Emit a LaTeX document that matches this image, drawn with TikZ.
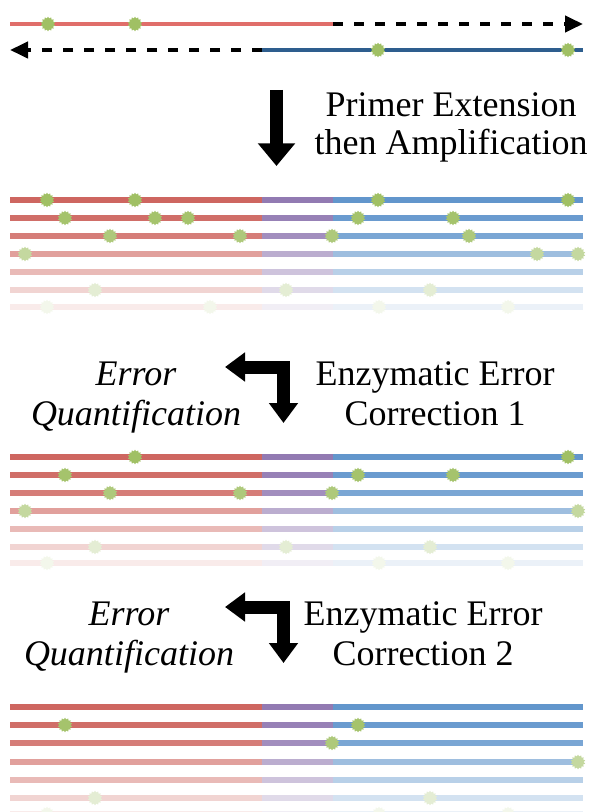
\documentclass[tikz,border=0pt]{standalone}
\usepackage{fontspec}
\setmainfont{Liberation Serif}
\usetikzlibrary{arrows.meta,shapes.geometric}
\definecolor{sred}{RGB}{206,102,96}
\definecolor{spurple}{RGB}{146,122,178}
\definecolor{sblue}{RGB}{98,150,204}
\definecolor{tred}{RGB}{224,110,106}
\definecolor{tblue}{RGB}{46,94,142}
\definecolor{mgreen}{RGB}{160,192,100}
\tikzset{
rd/.style ={draw=sred!#1, line width=4.5pt},
pu/.style ={draw=spurple!#1, line width=4.5pt},
bl/.style ={draw=sblue!#1, line width=4.5pt},
mut/.style ={star, star points=14, star point ratio=1.3,
  fill=mgreen!#1, draw=none, minimum size=11pt, inner sep=0pt
}
}
\begin{document}
\begin{tikzpicture}[x=0.75pt,y=-0.75pt,
lbl/.style ={font=\fontsize{27}{30}\selectfont, anchor=base},
itl/.style ={font=\fontsize{27}{30}\selectfont\itshape, anchor=base},
dsh/.style ={draw=black, line width=3pt, dash pattern=on 7.5pt off 8.25pt,
  -{Triangle[width=12pt,length=13.5pt]}
},
bigarrow/.style ={draw=black, line width=9.75pt,
  -{Triangle[width=27pt,length=17pt]}
},
elbow/.style ={draw=black, line width=9.75pt, line join=miter,
  {Triangle[width=21pt,length=15pt]}-{Triangle[width=21pt,length=15pt]}
}]
\useasboundingbox (0,0) rectangle (589,812);

\coordinate (t1) at (333,24);
\coordinate (t2) at (583,24);
\coordinate (t3) at (262,50);
\coordinate (t4) at (10,50);
\draw[tred, line width=3pt] (10,24) -- (t1);
\draw[dsh] (t1) -- (t2);
\draw[tblue, line width=3pt] (t3) -- (583,50);
\draw[dsh] (t3) -- (t4);
\node (m1) at (48,24) [mut=100] {};
\node (m2) at (135,24) [mut=100] {};
\node (m3) at (378,50) [mut=100] {};
\node (m4) at (568,50) [mut=100] {};

\coordinate (a0) at (276.5,90);
\coordinate (a1) at (276.5,166);
\draw[bigarrow] (a0) -- (a1);
\node (pe1) at (451,117) [lbl] {Primer Extension};
\node (pe2) at (451,155) [lbl] {then Amplification};

\draw[rd=100] (10,200) -- (262,200); \draw[pu=100] (262,200) -- (333,200); \draw[bl=100] (333,200) -- (583,200);
\draw[rd=95] (10,218) -- (262,218); \draw[pu=95] (262,218) -- (333,218); \draw[bl=95] (333,218) -- (583,218);
\draw[rd=85] (10,236) -- (262,236); \draw[pu=85] (262,236) -- (333,236); \draw[bl=85] (333,236) -- (583,236);
\draw[rd=62] (10,254) -- (262,254); \draw[pu=62] (262,254) -- (333,254); \draw[bl=62] (333,254) -- (583,254);
\draw[rd=45] (10,272) -- (262,272); \draw[pu=45] (262,272) -- (333,272); \draw[bl=45] (333,272) -- (583,272);
\draw[rd=28] (10,290) -- (262,290); \draw[pu=28] (262,290) -- (333,290); \draw[bl=28] (333,290) -- (583,290);
\draw[rd=13] (10,307) -- (262,307); \draw[pu=13] (262,307) -- (333,307); \draw[bl=13] (333,307) -- (583,307);
\node (a11) at (47,200) [mut=100] {}; \node (a12) at (135,200) [mut=100] {};
\node (a13) at (378,200) [mut=100] {}; \node (a14) at (568,200) [mut=100] {};
\node (a21) at (65,218) [mut=95] {}; \node (a22) at (155,218) [mut=95] {}; \node (a23) at (188,218) [mut=95] {};
\node (a24) at (358,218) [mut=95] {}; \node (a25) at (453,218) [mut=95] {};
\node (a31) at (110,236) [mut=85] {}; \node (a32) at (240,236) [mut=85] {};
\node (a33) at (332,236) [mut=85] {}; \node (a34) at (469,236) [mut=85] {};
\node (a41) at (25,254) [mut=62] {}; \node (a42) at (537,254) [mut=62] {}; \node (a43) at (578,254) [mut=62] {};
\node (a61) at (95,290) [mut=28] {}; \node (a62) at (286,290) [mut=28] {}; \node (a63) at (430,290) [mut=28] {};
\node (a71) at (47,307) [mut=13] {}; \node (a72) at (210,307) [mut=13] {};
\node (a73) at (379,307) [mut=13] {}; \node (a74) at (508,307) [mut=13] {};

\coordinate (e1l) at (225,367);
\coordinate (e1d) at (283.5,423);
\draw[elbow] (e1l) -| (e1d);
\node (eq1a) at (136,385) [itl] {Error};
\node (eq1b) at (136,425) [itl] {Quantification};
\node (ec1a) at (435,385) [lbl] {Enzymatic Error};
\node (ec1b) at (435,425) [lbl] {Correction 1};

\draw[rd=100] (10,457) -- (262,457); \draw[pu=100] (262,457) -- (333,457); \draw[bl=100] (333,457) -- (583,457);
\draw[rd=95] (10,475) -- (262,475); \draw[pu=95] (262,475) -- (333,475); \draw[bl=95] (333,475) -- (583,475);
\draw[rd=85] (10,493) -- (262,493); \draw[pu=85] (262,493) -- (333,493); \draw[bl=85] (333,493) -- (583,493);
\draw[rd=62] (10,511) -- (262,511); \draw[pu=62] (262,511) -- (333,511); \draw[bl=62] (333,511) -- (583,511);
\draw[rd=45] (10,529) -- (262,529); \draw[pu=45] (262,529) -- (333,529); \draw[bl=45] (333,529) -- (583,529);
\draw[rd=28] (10,547) -- (262,547); \draw[pu=28] (262,547) -- (333,547); \draw[bl=28] (333,547) -- (583,547);
\draw[rd=13] (10,563) -- (262,563); \draw[pu=13] (262,563) -- (333,563); \draw[bl=13] (333,563) -- (583,563);
\node (b11) at (135,457) [mut=100] {}; \node (b12) at (568,457) [mut=100] {};
\node (b21) at (65,475) [mut=95] {}; \node (b22) at (358,475) [mut=95] {}; \node (b23) at (453,475) [mut=95] {};
\node (b31) at (110,493) [mut=85] {}; \node (b32) at (240,493) [mut=85] {}; \node (b33) at (332,493) [mut=85] {};
\node (b41) at (25,511) [mut=62] {}; \node (b42) at (578,511) [mut=62] {};
\node (b61) at (95,547) [mut=28] {}; \node (b62) at (286,547) [mut=28] {}; \node (b63) at (430,547) [mut=28] {};
\node (b71) at (47,563) [mut=13] {}; \node (b72) at (379,563) [mut=13] {}; \node (b73) at (508,563) [mut=13] {};

\coordinate (e2l) at (225,607);
\coordinate (e2d) at (283.5,663);
\draw[elbow] (e2l) -| (e2d);
\node (eq2a) at (129,625) [itl] {Error};
\node (eq2b) at (129,665) [itl] {Quantification};
\node (ec2a) at (423,625) [lbl] {Enzymatic Error};
\node (ec2b) at (423,665) [lbl] {Correction 2};

\draw[rd=100] (10,707) -- (262,707); \draw[pu=100] (262,707) -- (333,707); \draw[bl=100] (333,707) -- (583,707);
\draw[rd=95] (10,725) -- (262,725); \draw[pu=95] (262,725) -- (333,725); \draw[bl=95] (333,725) -- (583,725);
\draw[rd=85] (10,743) -- (262,743); \draw[pu=85] (262,743) -- (333,743); \draw[bl=85] (333,743) -- (583,743);
\draw[rd=62] (10,762) -- (262,762); \draw[pu=62] (262,762) -- (333,762); \draw[bl=62] (333,762) -- (583,762);
\draw[rd=45] (10,780) -- (262,780); \draw[pu=45] (262,780) -- (333,780); \draw[bl=45] (333,780) -- (583,780);
\draw[rd=28] (10,798) -- (262,798); \draw[pu=28] (262,798) -- (333,798); \draw[bl=28] (333,798) -- (583,798);
\draw[rd=13] (10,814) -- (262,814); \draw[pu=13] (262,814) -- (333,814); \draw[bl=13] (333,814) -- (583,814);
\node (c21) at (65,725) [mut=95] {}; \node (c22) at (358,725) [mut=95] {};
\node (c31) at (332,743) [mut=85] {};
\node (c41) at (578,762) [mut=62] {};
\node (c61) at (95,798) [mut=28] {}; \node (c62) at (430,798) [mut=28] {};
\node (c71) at (47,814) [mut=13] {}; \node (c72) at (379,814) [mut=13] {}; \node (c73) at (508,814) [mut=13] {};

\end{tikzpicture}
\end{document}
